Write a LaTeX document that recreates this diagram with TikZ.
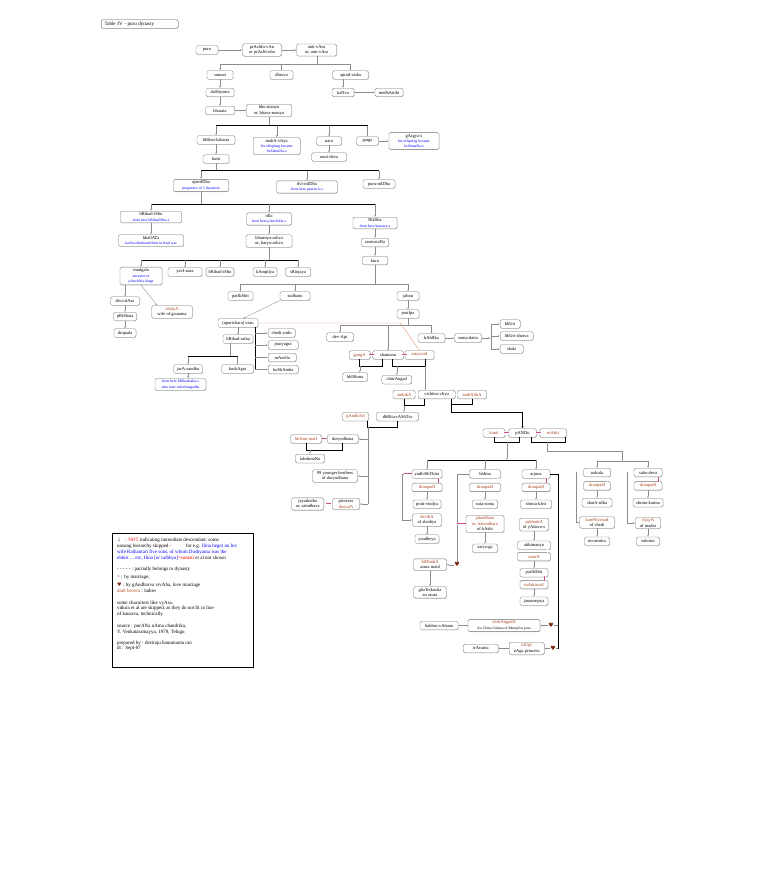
\documentclass[tikz,border=0pt]{standalone}
\usepackage{fontspec}
\setmainfont{Liberation Serif}
\newfontfamily\symfont{DejaVu Sans}
\usetikzlibrary{arrows.meta,positioning,calc,shadows}
\definecolor{ladyc}{RGB}{170,65,30}
\definecolor{wedc}{RGB}{205,75,140}
\definecolor{orl}{RGB}{230,150,110}
\definecolor{hrt}{RGB}{125,40,15}
\newcommand{\lady}[1]{\textcolor{ladyc}{#1}}
\newcommand{\note}[1]{{\fontsize{3.8}{4.6}\selectfont\color{blue}#1}}
\newcommand{\wedh}[2]{\draw[wed] ($(#1.east)!.5!(#2.west)$) ++(-2.5,0) -- ++(5,0);}
\newcommand{\wedv}[2]{\draw[wed] ($(#1.south east)!.5!(#2.north east)$) ++(-3,-2.5) -- ++(0,5);}

\begin{document}
\begin{tikzpicture}[x=1pt, y=-1pt, node distance=4.5pt, every node/.style={font=\fontsize{4.5}{5.4}\selectfont}]
\tikzset{pers/.style={draw=black!55, line width=0.35pt, rounded corners=1.5pt, fill=white, align=center, minimum width=#1, minimum height=8.5pt, inner xsep=2.5pt, inner ysep=1.5pt, drop shadow={shadow xshift=0.5pt, shadow yshift=-0.5pt, fill=black!30, opacity=0.5}}, pers/.default=22}
\tikzset{wife/.style={pers=#1, text=ladyc}, wife/.default=22}
\tikzset{arr/.style={draw=black!45, line width=0.35pt, -{Latex[length=2pt,width=1.6pt]}}}
\tikzset{link/.style={draw=black!45, line width=0.35pt}}
\tikzset{bar/.style={draw=black, line width=1pt}}
\tikzset{sat/.style={draw=orl, line width=0.4pt}}
\tikzset{wed/.style={draw=wedc, line width=0.45pt, double=white, double distance=0.6pt}}
\tikzset{heart/.style={font=\symfont\fontsize{6}{6}\selectfont, text=hrt, inner sep=0.3pt}}
\useasboundingbox (0,0) rectangle (768,896);

\node[pers=77, anchor=west, align=left, text width=70pt, font=\fontsize{5}{6}\selectfont, draw=black!70] (ttl) at (101,24) {Table IV - puru dynasty};

\coordinate (L1) at (0,64);  \coordinate (L2) at (0,126); \coordinate (L3) at (0,171);
\coordinate (L4) at (0,204); \coordinate (L5) at (0,260); \coordinate (L6) at (0,284);
\coordinate (L7) at (0,356.7); \coordinate (L8) at (0,325); \coordinate (L9) at (0,460);
\coordinate (L10) at (0,461); \coordinate (L11) at (0,451);

\node[pers] (puru) at (207,50) {puru};
\node[pers=39] (prachi) at (262,50) {prAchIn-vAn\\or prAchI-nba};
\node[pers=40] (anti) at (316.7,50) {anti-vAru\\or, anti-vAra};
\node[pers=26] (sumati) at (220,75) {sumati};
\node[pers=23] (dhruva) at (281.5,75) {dhruva};
\node[pers=36] (apr) at (350.5,75) {apratI-ratha};
\node[pers=28] (dush) at (220,92.5) {duShyanta};
\node[pers] (kanva) at (343,92.5) {kaNva};
\node[pers=28] (medha) at (389,92.5) {medhAtithi};
\node[pers=29] (bharata) at (220,110.5) {bharata};
\node[pers=45] (bhum) at (269,110.5) {bhu-manyu\\or, bhava-manyu};

\node[pers=38] (brihat) at (216,140) {bRihat-kshatra};
\node[pers=47] (mahav) at (276.7,146) {mahA-vIrya\\\note{his offspring became}\\\note{brAhmaNa-s}};
\node[pers=25] (nara) at (329,141) {nara};
\node[pers] (garga) at (367.5,141) {garga};
\node[pers=50] (gargya) at (414,141) {gArgya-s\\\note{his offspring became}\\\note{brAhmaNa-s}};
\node[pers=35] (ranti) at (329,157) {ranti-deva};
\node[pers=26] (hasti) at (216,159) {hasti};

\node[pers=55] (ajam) at (201,185.5) {ajamIDha\\\note{progenitor of 3 dynasties}};
\node[pers=61] (dvim) at (307,187) {dvi-mIDha\\\note{from here pauravA-s}};
\node[pers=32] (purum) at (379,184) {puru-mIDha};

\node[pers=61] (brihu) at (151,217) {bRihad-iShu\\\note{from here bRihadiShu-s}};
\node[pers=45] (nila) at (269,219) {nIla\\\note{from here pAnchAla-s}};
\node[pers=44] (riksha) at (375,223) {RikSha\\\note{from here kaurava-s}};
\node[pers=65] (bhall) at (151,240.5) {bhallATa\\\note{karNa eliminated him in final war}};
\node[pers=46] (bharm) at (269,241) {bharmya-ashva\\or, harya-ashva};
\node[pers=27] (samv) at (375,242.5) {samvaraNa};
\node[pers=25] (kuru) at (375,260.5) {kuru};

\node[pers=42] (mudg) at (141,276) {mudgala\\\note{ancestor of}\\\note{pAnchAla kings}};
\node[pers=34] (yavi) at (185,272) {yavI-nara};
\node[pers=26] (bri2) at (220,272) {bRihad-iShu};
\node[pers=24] (kamp) at (265,272) {kAmpilya};
\node[pers=25] (srinj) at (298,272) {sRinjaya};
\node[pers=29] (divo) at (125,301) {divo-dAsa};
\node[pers=41] (ahalya) at (172,312) {\lady{ahalyA}\\wife of gautama};
\node[pers=23] (prish) at (125,316.5) {pRiShata};
\node[pers] (drupada) at (125,333) {drupada};

\node[pers=25] (parik1) at (240.5,296) {parIkShit};
\node[pers=30] (sudh) at (295,296) {sudhanu};
\node[pers] (jahnu) at (408,296) {jahnu};
\node[pers=40] (vasu) at (238,323) {(uparichara) vasu};
\node[pers] (prat) at (408,314) {pratIpa};
\node[pers=30] (brath) at (238,339) {bRihad-ratha};
\node[pers=27, anchor=west] (chedi) at (268,333) {chedi-yadu};
\node[pers=30, anchor=west] (praty) at (268,345) {pratyagra};
\node[pers=28, anchor=west] (mave) at (268,357.5) {mAvella};
\node[pers=30, anchor=west] (kusham) at (268,369.5) {kuShAmba};
\node[pers=29] (jara) at (188,369) {jarA-sandha};
\node[pers=32] (kushag) at (237.5,369) {kushAgra};
\node[pers=51] (jnote) at (180.5,384.5) {\note{from here bRihadratha-s}\\\note{who later ruled magadha}};

\node[pers=27] (devapi) at (340,337) {dev-Api};
\node[pers=31] (shant) at (388,355) {shantanu};
\node[pers=27] (bahl) at (431.5,338) {bAhlIka};
\node[pers=27] (soma) at (468,338) {soma-datta};
\node[pers=20, anchor=west] (bhuri) at (500,324) {bhUri};
\node[pers=33, anchor=west] (bhuris) at (500,336) {bhUri-shrava};
\node[pers=23, anchor=west] (shala) at (500,349) {shala};
\node[wife=21] (ganga) at (359.7,355) {gangA};
\node[wife=29] (satya) at (419.5,355) {satyavatI};
\node[pers=25] (bhishma) at (355,377) {bhIShma};
\node[pers=30] (chitra) at (396.7,379.7) {chitrAngad};
\node[wife] (ambika) at (404,394.5) {ambikA};
\node[pers=37] (vichi) at (436.7,394.5) {vichitra-vIrya};
\node[wife=29] (ambal) at (472,394.5) {ambAlikA};

\node[wife=26] (gandhari) at (355.5,416.7) {gAndhArI};
\node[pers=42] (dhrita) at (397.5,416.7) {dhRita-rAShTra};
\node[wife=31] (bhanu) at (306.2,439) {bhAnu-matI};
\node[pers=31] (duryo) at (342.8,439) {duryodhana};
\node[pers=29] (laksh) at (310,458.7) {lakshmaNa};
\node[pers=45] (bro99) at (335,476) {99 younger brothers\\of duryodhana};
\node[pers=32] (jaya) at (307.8,504) {jayadratha\\or, saindhava};
\node[pers=27] (dussala) at (346,504) {princess\\\lady{dussalA}};

\node[wife] (kunti) at (494,433) {kunti};
\node[pers=28] (pandu) at (522.5,433) {pANDu};
\node[wife=27] (madri) at (553,433) {mAdri};

\node[pers=30] (yudhi) at (427,474) {yudhiShThira};
\node[pers=31] (bhima) at (485,474) {bhIma};
\node[pers=28] (arjuna) at (536,474) {arjuna};
\node[pers=27] (nakula) at (597,472.5) {nakula};
\node[pers=28] (sahad) at (648,472.5) {saha-deva};
\node[wife=30, below=of yudhi] (drau1) {draupadI};
\node[wife=31, below=of bhima] (drau2) {draupadI};
\node[wife=28, below=of arjuna] (drau3) {draupadI};
\node[wife=27, below=of nakula] (drau4) {draupadI};
\node[wife=28, below=of sahad] (drau5) {draupadI};
\node[pers=28, below=8pt of drau1] (prati) {prati-vindya};
\node[pers=25, below=8pt of drau2] (suta) {suta-soma};
\node[pers=31, below=8pt of drau3] (shrutak) {shruta-kIrti};
\node[pers=30, below=8pt of drau4] (shatan) {shatA-nIka};
\node[pers=30, below=8pt of drau5] (shrutakarma) {shruta-karma};

\node[pers=29] (devika) at (427,520) {\lady{devikA}\\of shaibya};
\node[pers=24] (yaudh) at (427,539) {yaudheya};
\node[pers=38] (jala) at (485,523.8) {\lady{jalandhara}\\\lady{or, balandhara}\\of kAshi};
\node[pers=25] (sarva) at (485,548.3) {sarva-ga};
\node[pers=29] (subh) at (534,524.7) {\lady{subhadrA}\\of yAdava-s};
\node[pers=33] (abhi) at (534,545.3) {abhimanyu};
\node[wife=33, below=2.5pt of abhi] (uttara) {uttarA};
\node[pers=28] (parik2) at (534,572.8) {parIkShit};
\node[wife=28, below=3pt of parik2] (madrav) {mAdravatI};
\node[pers=28] (janam) at (534,601.3) {janamejaya};
\node[pers=35] (karen) at (597,522.5) {\lady{kareNu-matI}\\of chedi};
\node[pers=25] (nira) at (597,541.3) {nir-amitra};
\node[pers=25] (vijaya) at (648,523) {\lady{vijayA}\\of madra};
\node[pers=23] (suho) at (648,541.3) {suhotra};
\node[pers=33] (hidi) at (430,564.7) {\lady{hiDimbA}\\asura maid};
\node[pers=33] (ghat) at (430,592.3) {ghaTotkacha\\an asura};
\node[pers=72] (chitrA) at (504,625.5) {\lady{chitrAngadA}\\{\fontsize{3.6}{4.4}\selectfont d/o Chitra-Vahana of ManipUra pura}};
\node[pers=38] (babhru) at (439,625.5) {babhru-vAhana};
\node[pers=35] (ulupi) at (526.7,648.5) {\lady{ulUpI}\\nAga princess};
\node[pers=35] (irav) at (480.8,648.5) {irAvanta};
\node[heart] (h1) at (457,564.7) {♥};
\node[heart] (h2) at (551,625.5) {♥};
\node[heart] (h3) at (553,648.5) {♥};

\draw[arr] (puru) -- (prachi); \draw[arr] (prachi) -- (anti);
\draw[link] (anti) -- (anti |- L1); \draw[link] (sumati |- L1) -- (apr |- L1);
\foreach \n in {sumati,dhruva,apr} \draw[arr] (\n |- L1) -- (\n);
\draw[arr] (sumati) -- (dush); \draw[arr] (dush) -- (bharata); \draw[arr] (bharata) -- (bhum);
\draw[arr] (apr.south -| kanva) -- (kanva); \draw[arr] (kanva) -- (medha);
\draw[link] (bhum) -- (bhum |- L2); \draw[bar] (brihat |- L2) -- (garga |- L2);
\foreach \n in {brihat,mahav,nara,garga} \draw[arr] (\n |- L2) -- (\n);
\draw[arr] (nara) -- (ranti); \draw[arr] (garga) -- (gargya); \draw[arr] (brihat) -- (hasti);
\draw[link] (hasti) -- (hasti |- L3); \draw[bar] (ajam |- L3) -- (purum |- L3);
\foreach \n in {ajam,dvim,purum} \draw[arr] (\n |- L3) -- (\n);
\draw[link] (ajam) -- (ajam |- L4); \draw[bar] (brihu |- L4) -- (riksha |- L4);
\foreach \n in {brihu,nila,riksha} \draw[arr] (\n |- L4) -- (\n);
\draw[arr] (brihu) -- (bhall); \draw[arr] (nila) -- (bharm);
\draw[arr] (riksha) -- (samv); \draw[arr] (samv) -- (kuru);
\draw[link] (bharm) -- (bharm |- L5); \draw[bar] (mudg |- L5) -- (srinj |- L5);
\foreach \n in {mudg,yavi,bri2,kamp,srinj} \draw[arr] (\n |- L5) -- (\n);
\draw[arr] (mudg.south -| divo) -- (divo); \draw[arr] (mudg.south) -- ([xshift=6pt]ahalya.north west);
\draw[arr] (divo) -- (prish); \draw[arr] (prish) -- (drupada);

\draw[link] (kuru) -- (kuru |- L6); \draw[link] (parik1 |- L6) -- (jahnu |- L6);
\foreach \n in {parik1,sudh,jahnu} \draw[arr] (\n |- L6) -- (\n);
\draw[arr] (sudh.south west) -- ([xshift=5pt]vasu.north); \draw[arr] (jahnu) -- (prat);
\draw[arr] (vasu) -- (brath);
\coordinate (vs) at ([xshift=-3pt]vasu.south east);
\draw[bar] (vs) -- (vs |- kusham);
\foreach \n in {chedi,praty,mave,kusham} \draw[arr] (vs |- \n) -- (\n.west);
\coordinate (bd) at ([xshift=-8pt]brath.south);
\draw[link] (bd) -- (bd |- L7); \draw[bar] (jara |- L7) -- (kushag |- L7);
\foreach \n in {jara,kushag} \draw[arr] (\n |- L7) -- (\n);
\draw[arr] (jara) -- (jara |- jnote.north);
\draw[sat] (vasu.east) -- ([xshift=-19pt]satya.north |- vasu.east) -- (satya.north);

\draw[link] (prat) -- (prat |- L8); \draw[link] (devapi |- L8) -- (bahl |- L8);
\foreach \n in {devapi,shant,bahl} \draw[arr] (\n |- L8) -- (\n);
\draw[arr] (bahl) -- (soma);
\coordinate (sf) at ([xshift=9pt]soma.east);
\draw[arr] (soma) -- (sf); \draw[link] (sf |- bhuri) -- (sf |- shala);
\foreach \n in {bhuri,bhuris,shala} \draw[arr] (sf |- \n) -- (\n.west);

\draw[bar] (ganga.south) -- ++(0,7) -| ([xshift=-6pt]shant.south);
\draw[arr] ([yshift=-7pt]ganga.south) -- (ganga.south |- bhishma.north);
\draw[bar] ([xshift=4pt]shant.south) -- ++(0,7) -| ([xshift=6pt]satya.south);
\draw[arr] ([yshift=-7pt]satya.south -| chitra) -- (chitra);
\draw[arr] ([xshift=6pt,yshift=-7pt]satya.south) -- ([xshift=6pt]satya.south |- vichi.north);
\draw[bar] (ambika.south) -- ++(0,7) -| ([xshift=-12pt]vichi.south);
\draw[arr] ([yshift=-7pt]ambika.south) -- (ambika.south |- dhrita.north);
\draw[bar] ([xshift=-4pt]vichi.south east) -- ++(0,6) -| (ambal.south);
\draw[bar, -{Latex[length=2.5pt,width=2pt]}] ([xshift=-4pt,yshift=-6pt]vichi.south east) -- ++(0,8) -| (pandu.north);

\coordinate (gv) at ([xshift=-1pt]gandhari.south east);
\draw[bar] (gv) -- ++(0,6) -| (dhrita.south);
\draw[link] ([yshift=-6pt]gv) -- (gv |- dussala);
\foreach \n in {duryo,bro99,dussala} \draw[arr] (gv |- \n) -- (\n.east);
\draw[bar] (bhanu.south) -- ++(0,7) -| (duryo.south);
\draw[arr] ([yshift=-7pt]bhanu.south -| laksh) -- (laksh);

\draw[bar] (kunti.south) -- ++(0,5) -| ([xshift=-3pt]pandu.south);
\coordinate (kp) at ($(kunti.south)!0.45!(pandu.south)+(0,5)$);
\draw[arr] (kp) -- (kp |- L9);
\draw[bar] (yudhi |- L9) -- (arjuna |- L9);
\foreach \n in {yudhi,bhima,arjuna} \draw[arr] (\n |- L9) -- (\n);
\draw[bar] ([xshift=9pt]pandu.south) -- ++(0,5) -| ([xshift=12pt]madri.south);
\coordinate (mp) at ([xshift=-6pt,yshift=-5pt]madri.south);
\coordinate (nm) at ($(nakula.north)!0.5!(sahad.north)$);
\draw[arr] (mp) |- (nm |- L11) -- (nm |- L10);
\draw[link] (nakula |- L10) -- (sahad |- L10);
\foreach \n in {nakula,sahad} \draw[arr] (\n |- L10) -- (\n);

\draw[arr] (drau1) -- (prati); \draw[arr] (drau2) -- (suta); \draw[arr] (drau3) -- (shrutak);
\draw[arr] (drau4) -- (shatan); \draw[arr] (drau5) -- (shrutakarma);
\draw[arr] (yudhi.west) -- ++(-10,0) |- (devika.west); \draw[wed] (yudhi.west) -- ++(-8,0);
\draw[arr] (devika) -- (yaudh);
\draw[link] (bhima.west) -| (h1.north); \draw[wed] (jala.west) -- (jala.west -| h1);
\draw[arr] (h1.west) -- (hidi.east); \draw[arr] (jala) -- (sarva); \draw[arr] (hidi) -- (ghat);
\coordinate (av) at ([xshift=8pt]arjuna.east);
\draw[bar] (arjuna.east) -- (av) -- (av |- h3);
\draw[link] (av |- h2) -- (h2.east); \draw[link] (av |- h3) -- (h3.east);
\draw[wed] (subh.east) -- (subh.east -| av);
\draw[arr] (h2.west) -- (chitrA.east); \draw[arr] (h3.west) -- (ulupi.east);
\draw[arr] (chitrA.west) -- (babhru.east); \draw[arr] (ulupi.west) -- (irav.east);
\draw[arr] (subh) -- (abhi); \draw[arr] (uttara) -- (parik2); \draw[arr] (madrav) -- (janam);
\draw[arr] (nakula.west) -- ++(-7,0) |- (karen.west); \draw[wed] (nakula.west) -- ++(-6,0);
\draw[arr] (sahad.west) -- ++(-7,0) |- (vijaya.west); \draw[wed] (sahad.west) -- ++(-6,0);
\draw[arr] (karen) -- (nira); \draw[arr] (vijaya) -- (suho);

\wedh{ganga}{shant} \wedh{shant}{satya} \wedh{ambika}{vichi} \wedh{vichi}{ambal}
\wedh{gandhari}{dhrita} \wedh{kunti}{pandu} \wedh{pandu}{madri}
\wedh{bhanu}{duryo} \wedh{jaya}{dussala}
\wedv{yudhi}{drau1} \wedv{bhima}{drau2} \wedv{arjuna}{drau3} \wedv{nakula}{drau4}
\wedv{sahad}{drau5} \wedv{abhi}{uttara} \wedv{parik2}{madrav}

\node[draw=black, line width=0.8pt, anchor=north west, inner sep=5pt, font=\fontsize{5}{5.8}\selectfont] (legend) at (111.7,532.7) {\begin{minipage}[t][124pt][t]{131pt}\raggedright
{\symfont\color{black!55}↓}\hspace{4pt}{\color{red}: NOT} indicating immediate descendant; some\\
unsung hierarchy skipped - \hspace{12pt} for e.g. {\color{blue}Ilina begot on his}\\
{\color{blue}wife Rathantari five sons, of whom Dushyanta was the}\\
{\color{blue}eldest ... etc; Ilina [or raibhya]}{\color{red}=sumati} et al not shown\\[6pt]
- - - - - : partially belongs to dynasty\\[2pt]
{\color{wedc}\textbf{=}} : by marriage;\\[2pt]
{\symfont\color{hrt}♥} : by gAndharva vivAha, love marriage\\
{\color{ladyc}dark brown} : ladies\\[6pt]
some characters like vyAsa,\\
vidura et al are skipped, as they do not fit in line\\
of kaurava, technically.\\[6pt]
source : purANa nAma chandrika,\\
Y. Venkataramayya, 1979, Telugu\\[5pt]
prepared by : desiraju hanumanta rao\\
dt : Sept-07
\end{minipage}};
\end{tikzpicture}
\end{document}
